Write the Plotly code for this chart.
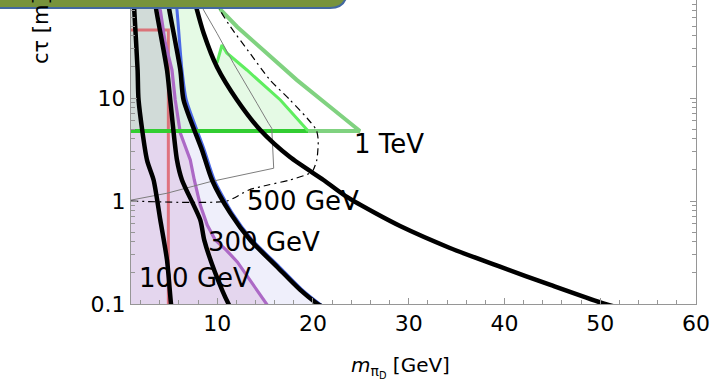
import math
import plotly.graph_objects as go

# ---- contour data: dark-pion mass [GeV] vs proper decay length c*tau [m] ----
# black contours, labelled by mediator mass
m_100 = [1.20, 1.34, 1.69, 1.79, 2.67, 3.36, 4.06, 4.76, 5.18, 5.30]
ct_100 = [120, 71.5, 18.7, 9.57, 2.50, 1.60, 0.655, 0.267, 0.100, 0.085]

m_300 = [3.30, 3.64, 4.76, 5.10, 5.80, 6.32, 8.23, 8.65, 9.80, 11.19, 11.50]
ct_300 = [120, 71.5, 18.7, 9.57, 2.50, 1.60, 0.655, 0.417, 0.200, 0.100, 0.090]

m_500 = [4.60, 5.00, 6.15, 6.49, 8.41, 9.46, 11.37, 13.45, 16.24, 18.67, 20.50, 21.10]
ct_500 = [120, 71.5, 18.7, 9.57, 3.13, 1.60, 0.763, 0.418, 0.230, 0.137, 0.100, 0.093]

m_1000 = [7.30, 7.89, 8.58, 9.98, 12.07, 14.50, 17.60, 21.10, 23.55, 26.50, 29.10, 34.30, 39.60, 44.80, 50.50, 52.00]
ct_1000 = [120, 71.5, 42.8, 20.0, 9.57, 4.89, 2.67, 1.60, 1.094, 0.763, 0.571, 0.350, 0.229, 0.153, 0.100, 0.092]

# purple and blue exclusion boundaries
m_purple = [3.80, 4.06, 4.58, 5.28, 5.62, 6.15, 7.19, 7.61, 8.23, 8.96, 9.80, 10.95, 12.10, 12.93, 14.15, 15.20, 15.50]
ct_purple = [120, 71.5, 34.2, 18.7, 9.57, 4.57, 2.50, 1.60, 0.914, 0.585, 0.418, 0.334, 0.256, 0.200, 0.137, 0.100, 0.090]

m_blue = [5.50, 5.80, 6.32, 6.77, 8.65, 9.70, 11.57, 13.66, 16.48, 18.88, 20.70, 21.20]
ct_blue = [120, 71.5, 18.7, 9.57, 3.13, 1.60, 0.763, 0.418, 0.230, 0.137, 0.100, 0.093]

# green region: lower edge at constant c*tau, curved upper-right edge
ct_green_floor = 4.78
m_green_edge = [19.5, 16.6, 13.1, 11.0, 10.5, 9.98]
ct_green_edge = [4.78, 9.57, 18.7, 27.4, 32.7, 21.9]
m_green_top = [8.58, 7.89, 7.30]
ct_green_top = [42.8, 71.5, 120]

m_lightgreen = [19.5, 24.9, 21.8, 18.3, 14.8, 12.1, 10.4, 9.3]
ct_lightgreen = [4.78, 4.78, 8.18, 15.0, 29.2, 48.9, 71.5, 120]

# red box edge
m_red = [1.0, 4.9, 4.9]
ct_red = [45.8, 45.8, 0.08]

# thin grey and dot-dashed projections
m_grey = [1.0, 4.76, 9.28, 15.9, 15.7, 15.36, 14.15, 13.1, 11.7, 9.98, 8.58, 7.6]
ct_grey = [1.02, 1.19, 1.54, 2.08, 5.08, 5.68, 8.89, 12.9, 21.7, 42.5, 71.5, 120]

m_dashdot = [1.0, 11.0, 13.3, 15.3, 17.6, 19.9, 20.4, 20.55, 20.35, 19.37, 17.6, 15.5, 13.45, 11.4, 10.3, 9.5]
ct_dashdot = [1.0, 1.0, 1.28, 1.43, 1.6, 1.92, 2.5, 3.9, 4.9, 6.4, 9.6, 15.0, 27.0, 49.0, 71.5, 120]

# contour labels
label_text = ["100 GeV", "300 GeV", "500 GeV", "1 TeV"]
label_m = [7.7, 14.9, 19.0, 27.9]
label_ct = [0.179, 0.40, 1.0, 3.57]

x_ticks = [10, 20, 30, 40, 50, 60]
x_minor = [v for v in range(2, 60, 2) if v % 10]
y_ticks = [0.1, 1, 10]
y_ticktext = ["0.1", "1", "10"]
y_minor = [k * 10.0 ** e for e in (-1, 0, 1) for k in range(2, 10)]

FONT = "DejaVu Sans"
M_LO = 1.0

fig = go.Figure()

# lavender region (left of the blue boundary)
fig.add_trace(go.Scatter(
    x=m_blue + [M_LO, M_LO], y=ct_blue + [ct_blue[-1], ct_blue[0]],
    fill="toself", fillcolor="#efeffb", line=dict(width=0), mode="lines",
    hoverinfo="skip"))
# purple region (left of the purple boundary)
fig.add_trace(go.Scatter(
    x=m_purple + [M_LO, M_LO], y=ct_purple + [ct_purple[-1], ct_purple[0]],
    fill="toself", fillcolor="#e4d6ee", line=dict(width=0), mode="lines",
    hoverinfo="skip"))
# green region, translucent on top
gx = [M_LO] + m_green_edge + m_green_top + [M_LO]
gy = [ct_green_floor] + ct_green_edge + ct_green_top + [ct_green_top[-1]]
fig.add_trace(go.Scatter(
    x=gx, y=gy, fill="toself", fillcolor="rgba(150,235,150,0.25)",
    line=dict(width=0), mode="lines", hoverinfo="skip"))

# coloured boundaries
fig.add_trace(go.Scatter(x=m_red, y=ct_red, mode="lines",
                         line=dict(color="rgba(222,80,90,0.75)", width=3)))
fig.add_trace(go.Scatter(x=m_purple, y=ct_purple, mode="lines",
                         line=dict(color="rgb(172,105,198)", width=3.2)))
fig.add_trace(go.Scatter(x=m_blue, y=ct_blue, mode="lines",
                         line=dict(color="rgb(75,105,230)", width=3, shape="spline", smoothing=0.6)))
fig.add_trace(go.Scatter(x=m_lightgreen, y=ct_lightgreen, mode="lines",
                         line=dict(color="rgb(128,210,128)", width=4)))
fig.add_trace(go.Scatter(x=[M_LO, m_green_edge[0]], y=[ct_green_floor, ct_green_floor],
                         mode="lines", line=dict(color="rgb(50,205,50)", width=4)))
fig.add_trace(go.Scatter(x=m_green_edge, y=ct_green_edge, mode="lines",
                         line=dict(color="rgb(95,238,95)", width=3)))

# thin projections
fig.add_trace(go.Scatter(x=m_grey, y=ct_grey, mode="lines",
                         line=dict(color="rgb(125,125,125)", width=1)))
fig.add_trace(go.Scatter(x=m_dashdot, y=ct_dashdot, mode="lines",
                         line=dict(color="black", width=1.2, dash="7px,4px,2px,4px",
                                   shape="spline", smoothing=0.6)))

# black contours
for mx, cy in [(m_100, ct_100), (m_300, ct_300), (m_500, ct_500), (m_1000, ct_1000)]:
    fig.add_trace(go.Scatter(x=mx, y=cy, mode="lines",
                             line=dict(color="black", width=4.5, shape="spline", smoothing=0.7)))

# invisible trace that keeps the right-hand frame axis alive
fig.add_trace(go.Scatter(x=[M_LO], y=[1], yaxis="y2", mode="markers",
                         marker=dict(opacity=0), hoverinfo="skip"))

# annotations on a log axis take log10 positions
for t, mx, cy in zip(label_text, label_m, label_ct):
    fig.add_annotation(x=mx, y=math.log10(cy), yref="y", xref="x", text=t, showarrow=False,
                       font=dict(family=FONT, size=26, color="black"),
                       xanchor="center", yanchor="middle")

# plot-area geometry in pixels
L, R, T, B = 131, 23, 0, 79
W, H = 719, 383
PW, PH = W - L - R, H - T - B

def px_x(px):
    return (px - L) / PW

def px_y(py):
    return (H - B - py) / PH

# axis titles
fig.add_annotation(xref="paper", yref="paper", x=px_x(41), y=px_y(30),
                   text="cτ [m]", textangle=-90, showarrow=False,
                   font=dict(family=FONT, size=21, color="black"),
                   xanchor="center", yanchor="middle")
fig.add_annotation(xref="paper", yref="paper", x=px_x(400), y=px_y(367),
                   text="<i>m</i><sub>π<sub>D</sub></sub> [GeV]", showarrow=False,
                   font=dict(family=FONT, size=20, color="black"),
                   xanchor="center", yanchor="middle")

# header banner across the top-left
bx0, bx1, by = -0.4, px_x(347), px_y(8)
fig.add_shape(type="path", xref="paper", yref="paper",
              path=(f"M {bx0},{px_y(-30)} L {bx0},{by} L {px_x(330)},{by} "
                    f"Q {bx1},{by} {bx1},{px_y(-10)} L {bx1},{px_y(-30)} Z"),
              fillcolor="rgb(119,147,60)", line=dict(color="rgb(66,104,160)", width=2),
              layer="above")

axis_grey = "rgb(150,150,150)"
y_range = [-1, -1 + PH / 103.0]
fig.update_layout(
    width=W, height=H,
    margin=dict(l=L, r=R, t=T, b=B),
    paper_bgcolor="white", plot_bgcolor="white",
    showlegend=False,
    xaxis=dict(range=[M_LO, 60], tickvals=x_ticks, ticks="inside", ticklen=6,
               tickcolor=axis_grey, showline=True, linecolor=axis_grey, linewidth=1,
               showgrid=False, zeroline=False,
               tickfont=dict(family=FONT, size=22, color="black"),
               minor=dict(tickvals=x_minor, ticks="inside", ticklen=4,
                          tickcolor=axis_grey, showgrid=False)),
    yaxis=dict(type="log", range=y_range, tickvals=y_ticks, ticktext=y_ticktext,
               ticks="inside", ticklen=6, tickcolor=axis_grey, showline=True,
               linecolor=axis_grey, linewidth=1, showgrid=False, zeroline=False,
               tickfont=dict(family=FONT, size=22, color="black"),
               minor=dict(tickvals=y_minor, ticks="inside", ticklen=4,
                          tickcolor=axis_grey, showgrid=False)),
    yaxis2=dict(type="log", range=y_range, overlaying="y", side="right",
                tickvals=y_ticks, ticks="inside", ticklen=6, tickcolor=axis_grey,
                showticklabels=False, showline=True, linecolor=axis_grey, linewidth=1,
                showgrid=False, zeroline=False,
                minor=dict(tickvals=y_minor, ticks="inside", ticklen=4,
                           tickcolor=axis_grey, showgrid=False)),
)

fig.write_html("out.html")
